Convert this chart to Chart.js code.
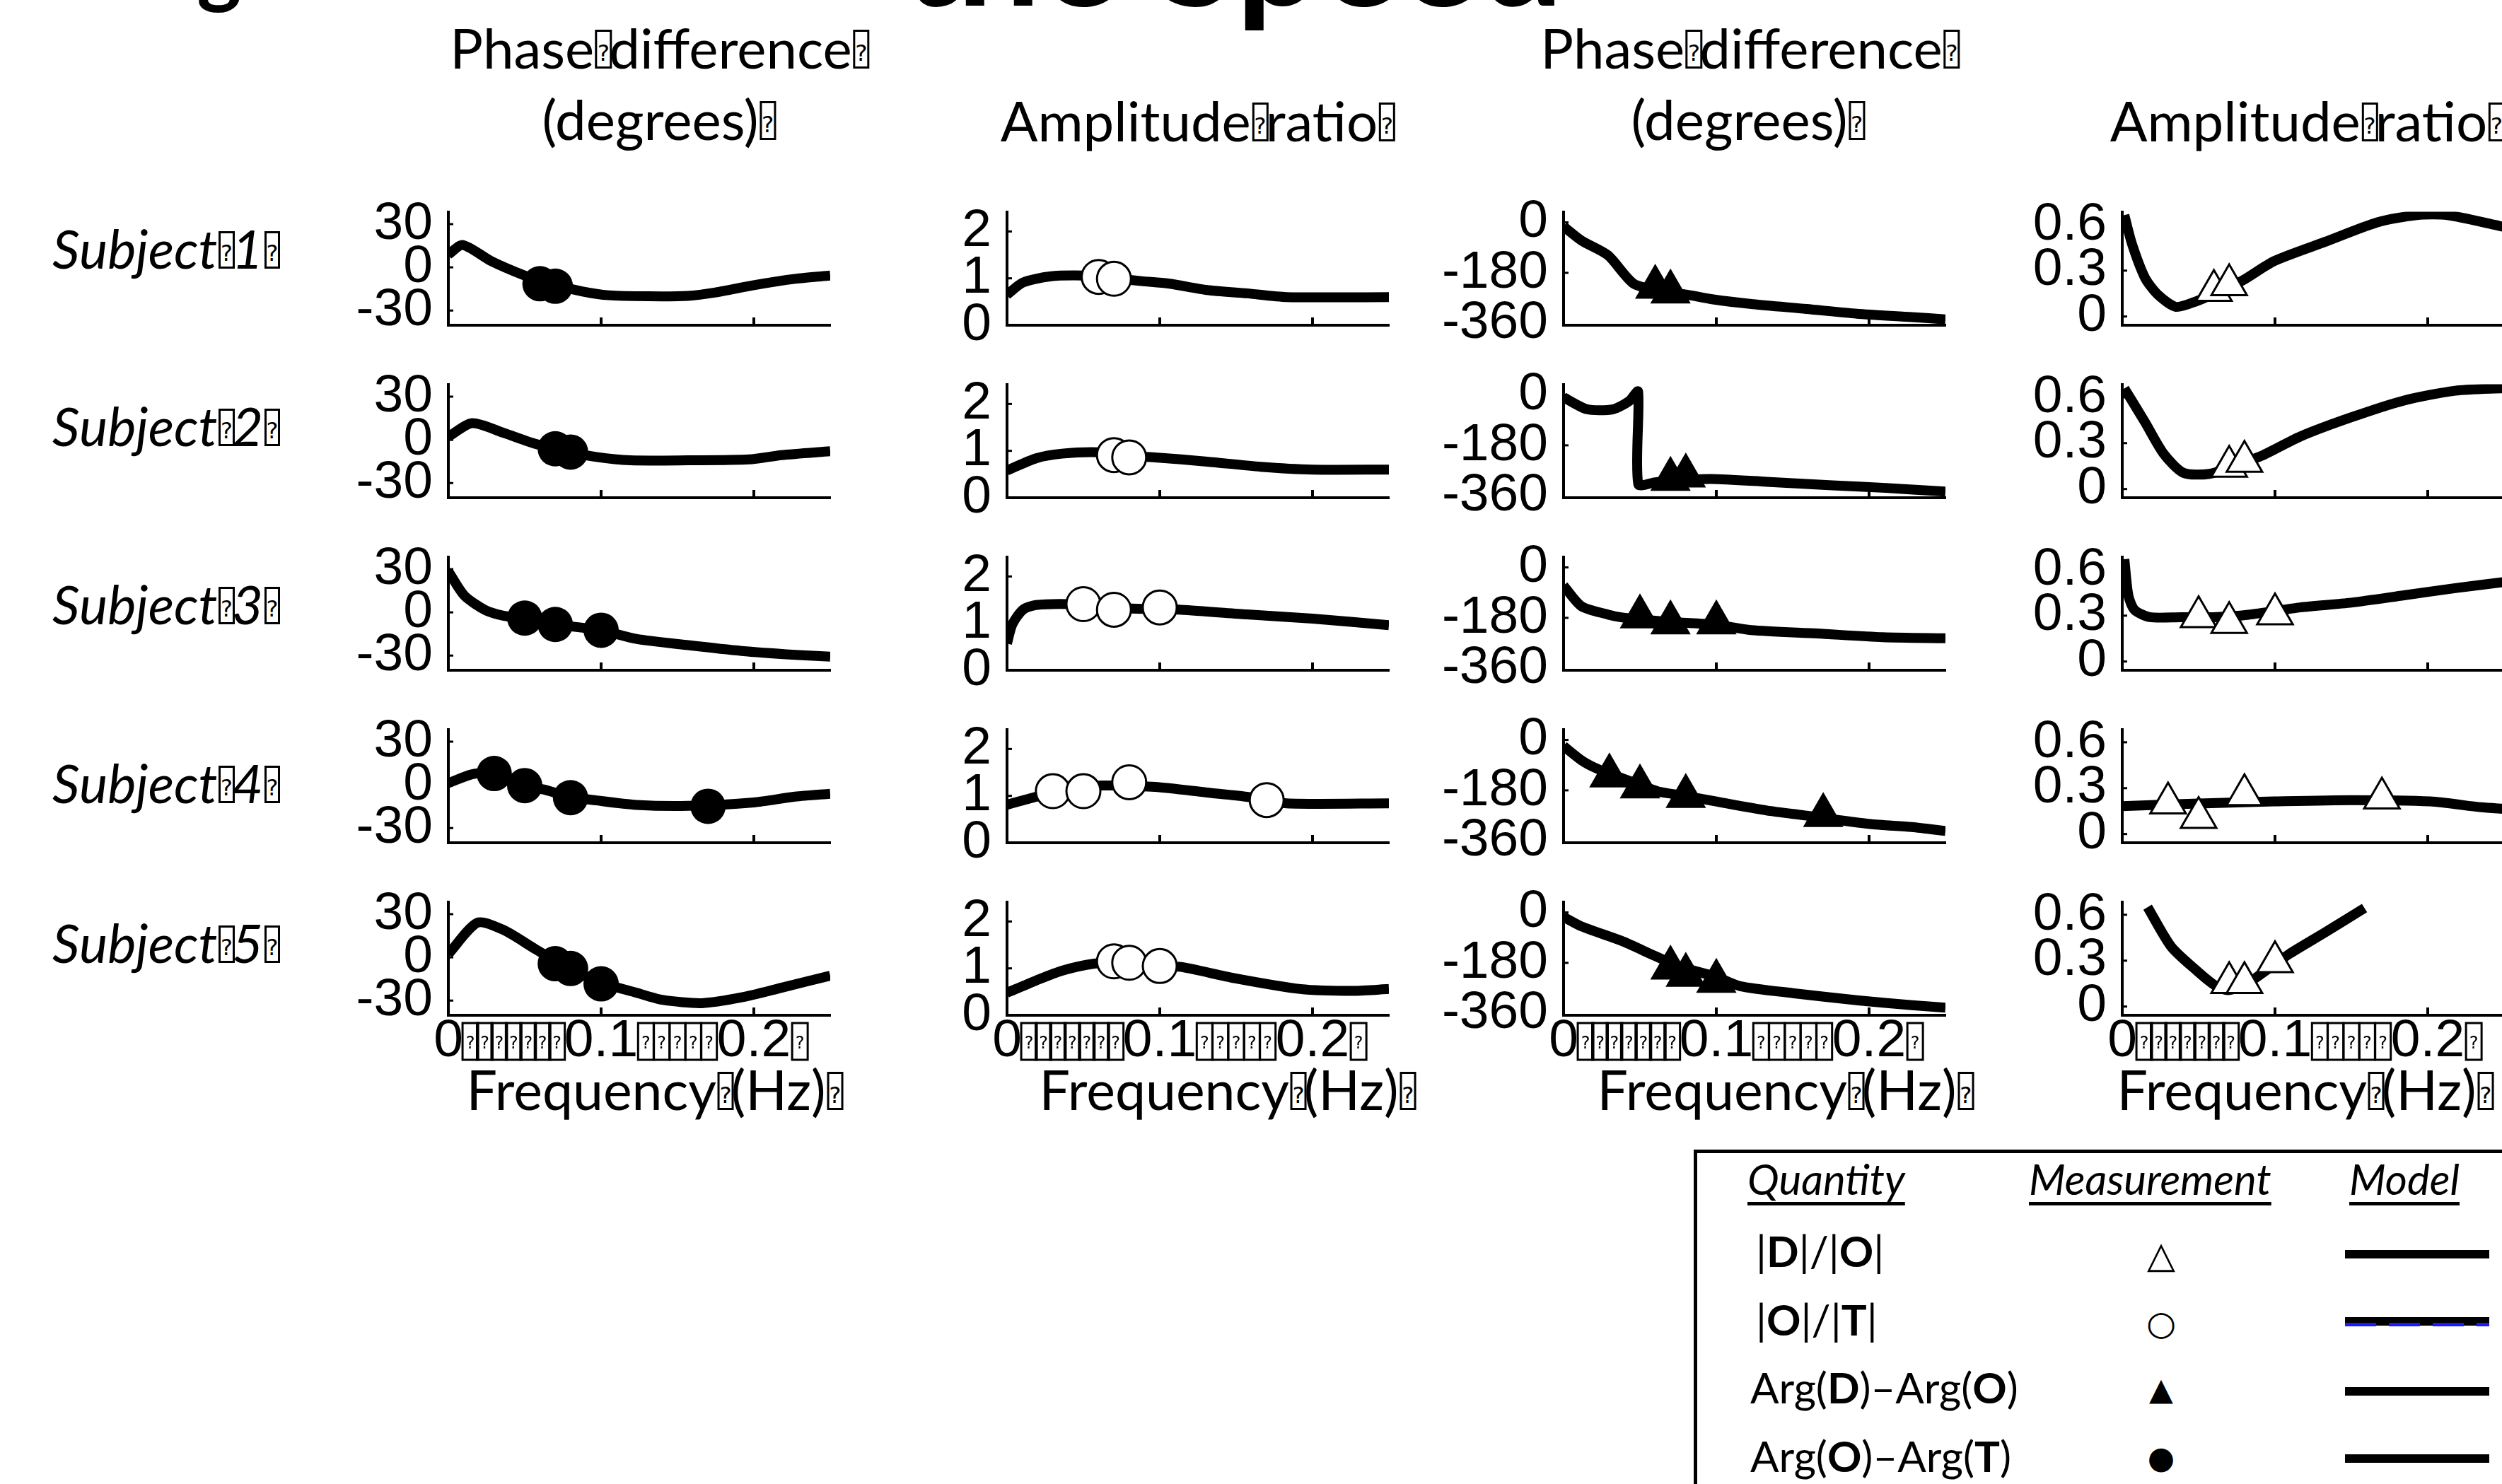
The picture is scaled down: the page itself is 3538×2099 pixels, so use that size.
<!DOCTYPE html>
<html>
<head>
<meta charset="utf-8">
<title>Phase difference and amplitude ratio per subject</title>
<script src="https://cdn.jsdelivr.net/npm/chart.js@4.4.1/dist/chart.umd.min.js"></script>
<style>
  html, body { margin: 0; padding: 0; background: #fff; }
  body { width: 3538px; height: 2099px; position: relative; overflow: hidden; font-family: Lato, 'Open Sans', sans-serif; color: #000; }
  .t { position: absolute; white-space: nowrap; line-height: 1; }
  .c { transform: translateX(-50%); }
  .q { display: inline-block; width: 0.3em; height: 0.7em; border: 3px solid #000; box-sizing: border-box; position: relative; margin: 0 -0.05em 0 0.02em; }
  .q::after { content: '?'; position: absolute; left: 0; right: 0; bottom: 0.06em; font-size: 0.42em; text-align: center; line-height: 1; font-style: normal; font-family: 'DejaVu Sans', sans-serif; }
  canvas { position: absolute; }
  #legend { position: absolute; left: 2395px; top: 1626px; width: 1300px; height: 600px; border: 5px solid #000; box-sizing: border-box; }
  .lh { font-style: italic; text-decoration: underline; text-decoration-thickness: 5px; text-underline-offset: 10px; }
  .sym { position: absolute; width: 80px; height: 60px; display: flex; align-items: center; justify-content: center; line-height: 1; font-family: 'DejaVu Sans', sans-serif; }
  .mline { position: absolute; left: 3316px; width: 204px; height: 12px; background: #000; }
</style>
</head>
<body>

<div class="t" style="left:180px;top:-110px;font-size:120px;font-weight:700">Fig</div>
<div class="t" style="left:1275px;top:-178px;font-size:210px;font-weight:700">the Speed</div>

<div class="t c" style="left:931px;top:28px;font-size:78px">Phase<span class="q"></span>difference<span class="q"></span></div>
<div class="t c" style="left:930px;top:129px;font-size:78px">(degrees)<span class="q"></span></div>
<div class="t c" style="left:1692px;top:131px;font-size:78px">Amplitude<span class="q"></span>ratio<span class="q"></span></div>
<div class="t c" style="left:2473px;top:28px;font-size:78px">Phase<span class="q"></span>difference<span class="q"></span></div>
<div class="t c" style="left:2470px;top:129px;font-size:78px">(degrees)<span class="q"></span></div>
<div class="t c" style="left:3261px;top:131px;font-size:78px">Amplitude<span class="q"></span>ratio<span class="q"></span></div>

<div id="rowLabels"></div>
<div id="freqLabels"></div>

<div id="legend"></div>
<div class="t lh" style="left:2471px;top:1637px;font-size:60px">Quantity</div>
<div class="t lh" style="left:2869px;top:1637px;font-size:60px">Measurement</div>
<div class="t lh" style="left:3322px;top:1637px;font-size:60px">Model</div>
<div class="t" style="left:2483px;top:1739px;font-size:60px">|<b>D</b>|/|<b>O</b>|</div>
<div class="t" style="left:2483px;top:1836px;font-size:60px">|<b>O</b>|/|<b>T</b>|</div>
<div class="t" style="left:2475px;top:1932px;font-size:60px">Arg(<b>D</b>)–Arg(<b>O</b>)</div>
<div class="t" style="left:2475px;top:2029px;font-size:60px">Arg(<b>O</b>)–Arg(<b>T</b>)</div>
<div class="sym" style="left:3016px;top:1745px;font-size:52px">△</div>
<div class="sym" style="left:3016px;top:1841px;font-size:48px">○</div>
<div class="sym" style="left:3016px;top:1935px;font-size:44px">▲</div>
<div class="sym" style="left:3016px;top:2032px;font-size:44px">●</div>
<div class="mline" style="top:1768px"></div>
<div class="mline" style="top:1863px"></div>
<div style="position:absolute;left:3316px;top:1871px;width:204px;height:5px;background:repeating-linear-gradient(90deg,#1a1aff 0 44px,transparent 44px 62px)"></div>
<div class="mline" style="top:1962px"></div>
<div class="mline" style="top:2057px"></div>

<script>
// axis ticks
const xTicks = [0, 0.1, 0.2];
const xTickLabels = ['0', '0.1', '0.2'];
const argOTTicks = [-30, 0, 30];
const argOTTickLabels = ['-30', '0', '30'];
const ampOTTicks = [0, 1, 2];
const ampOTTickLabels = ['0', '1', '2'];
const argDOTicks = [-360, -180, 0];
const argDOTickLabels = ['-360', '-180', '0'];
const ampDOTicks = [0, 0.3, 0.6];
const ampDOTickLabels = ['0', '0.3', '0.6'];

const subjectNames = ['1', '2', '3', '4', '5'];

// measurement frequencies (Hz)
const freqS1 = [0.06, 0.07];
const freqS2 = [0.07, 0.08];
const freqS3 = [0.05, 0.07, 0.10];
const freqS4 = [0.03, 0.05, 0.08, 0.17];
const freqS5 = [0.07, 0.08, 0.10];

// Arg(O)-Arg(T), degrees
const argOT_S1 = [-11.4, -13.1];
const argOT_S2 = [-6.2, -8.5];
const argOT_S3 = [-4.0, -8.4, -12.4];
const argOT_S4 = [7.9, -0.5, -8.9, -14.9];
const argOT_S5 = [-4.4, -7.7, -18.4];
const argOT_S1_model = [[0, 9], [0.0095, 15.5], [0.028, 4.4], [0.05, -5.7], [0.065, -11], [0.088, -16.8], [0.105, -19.4], [0.131, -20.1], [0.157, -19.8], [0.175, -17.4], [0.2, -12.4], [0.227, -8], [0.25, -5.7]];
const argOT_S2_model = [[0, 2.2], [0.0156, 11.6], [0.036, 4.9], [0.057, -2.8], [0.075, -7.5], [0.097, -11.9], [0.119, -14.2], [0.157, -14.2], [0.197, -13.6], [0.218, -10.6], [0.25, -7.9]];
const argOT_S3_model = [[0, 28.5], [0.0104, 11.7], [0.024, 1.7], [0.036, -2.3], [0.051, -4.5], [0.07, -8.4], [0.1, -12.4], [0.123, -18.4], [0.157, -22.8], [0.192, -26.8], [0.227, -29.5], [0.25, -30.8]];
const argOT_S4_model = [[0, 1.2], [0.0156, 7.4], [0.03, 7.9], [0.05, -0.3], [0.0623, -3.2], [0.08, -8.2], [0.097, -10.8], [0.123, -13.9], [0.157, -14.6], [0.2, -12.2], [0.227, -8.2], [0.25, -6.2]];
const argOT_S5_model = [[0, 2.3], [0.019, 24.1], [0.036, 19.1], [0.057, 5.7], [0.075, -5.5], [0.1, -17.5], [0.123, -24.5], [0.14, -29.5], [0.166, -31.8], [0.192, -27.8], [0.218, -21.1], [0.25, -12.7]];

// |O|/|T|
const ampOT_S1 = [1.03, 0.99];
const ampOT_S2 = [0.91, 0.86];
const ampOT_S3 = [1.41, 1.29, 1.34];
const ampOT_S4 = [1.10, 1.10, 1.29, 0.91];
const ampOT_S5 = [1.15, 1.12, 1.05];
const ampOT_S1_model = [[0, 0.65], [0.0104, 0.91], [0.028, 1.04], [0.05, 1.06], [0.065, 1.02], [0.088, 0.94], [0.1055, 0.89], [0.131, 0.75], [0.157, 0.68], [0.183, 0.6], [0.25, 0.6]];
const ampOT_S2_model = [[0, 0.58], [0.019, 0.84], [0.036, 0.94], [0.06, 0.97], [0.075, 0.9], [0.097, 0.86], [0.131, 0.77], [0.166, 0.66], [0.2, 0.6], [0.25, 0.6]];
const ampOT_S3_model = [[0, 0.57], [0.0035, 0.98], [0.0104, 1.29], [0.019, 1.39], [0.0415, 1.41], [0.06, 1.35], [0.085, 1.31], [0.114, 1.29], [0.157, 1.19], [0.2, 1.1], [0.25, 0.96]];
const ampOT_S4_model = [[0, 0.81], [0.019, 0.98], [0.04, 1.15], [0.062, 1.22], [0.097, 1.19], [0.131, 1.07], [0.157, 0.98], [0.183, 0.84], [0.25, 0.84]];
const ampOT_S5_model = [[0, 0.48], [0.019, 0.74], [0.036, 0.95], [0.057, 1.1], [0.075, 1.13], [0.1, 1.05], [0.114, 1.03], [0.149, 0.79], [0.192, 0.56], [0.227, 0.52], [0.25, 0.56]];

// Arg(D)-Arg(O), degrees
const argDO_S1 = [-231, -248];
const argDO_S2 = [-301, -289];
const argDO_S3 = [-176, -197, -197];
const argDO_S4 = [-128, -167, -201, -269];
const argDO_S5 = [-198, -224, -245];
const argDO_S1_model = [[0, -14.5], [0.0118, -65], [0.029, -117], [0.046, -219], [0.065, -245], [0.081, -258], [0.098, -275], [0.124, -292], [0.159, -309], [0.192, -326], [0.228, -338], [0.25, -346]];
const argDO_S2_model = [[0, -8.5], [0.0152, -51], [0.0325, -51], [0.043, -22], [0.0488, 12], [0.0489, -318], [0.06, -312], [0.075, -305], [0.0965, -300], [0.133, -310], [0.176, -323], [0.211, -332], [0.25, -345]];
const argDO_S3_model = [[0, -65], [0.0118, -139], [0.029, -168], [0.0377, -178], [0.05, -185], [0.07, -195], [0.081, -198], [0.1, -205], [0.1228, -224], [0.166, -236], [0.209, -249], [0.25, -253]];
const argDO_S4_model = [[0, -22], [0.0118, -73], [0.0204, -99], [0.03, -120], [0.05, -160], [0.062, -184], [0.08, -200], [0.098, -218], [0.133, -252], [0.157, -269], [0.2007, -300], [0.228, -311], [0.25, -325]];
const argDO_S5_model = [[0, -16], [0.0118, -50], [0.0377, -101], [0.0585, -152], [0.07, -180], [0.08, -200], [0.1, -230], [0.1156, -263], [0.15, -288], [0.193, -314], [0.228, -331], [0.25, -340]];

// |D|/|O|
const ampDO_S1 = [0.169, 0.207];
const ampDO_S2 = [0.148, 0.18];
const ampDO_S3 = [0.292, 0.254, 0.311];
const ampDO_S4 = [0.202, 0.107, 0.256, 0.234];
const ampDO_S5 = [0.156, 0.156, 0.292];
const ampDO_S1_model = [[0.0014, 0.663], [0.0064, 0.474], [0.0149, 0.253], [0.0234, 0.142], [0.0352, 0.063], [0.0488, 0.101], [0.065, 0.17], [0.079, 0.237], [0.0996, 0.363], [0.133, 0.489], [0.167, 0.616], [0.1927, 0.663], [0.213, 0.663], [0.2435, 0.6], [0.25, 0.585]];
const ampDO_S2_model = [[0.0014, 0.658], [0.0149, 0.437], [0.027, 0.232], [0.04, 0.106], [0.057, 0.099], [0.075, 0.16], [0.091, 0.216], [0.1165, 0.343], [0.15, 0.469], [0.1845, 0.579], [0.218, 0.643], [0.25, 0.66]];
const ampDO_S3_model = [[0.0014, 0.669], [0.004, 0.433], [0.008, 0.338], [0.018, 0.29], [0.0385, 0.29], [0.06, 0.29], [0.0826, 0.306], [0.1165, 0.354], [0.15, 0.385], [0.1845, 0.433], [0.218, 0.48], [0.25, 0.52]];
const ampDO_S4_model = [[0, 0.182], [0.05, 0.2], [0.0995, 0.213], [0.15, 0.222], [0.2015, 0.213], [0.235, 0.175], [0.25, 0.165]];
const ampDO_S5_model = [[0.0166, 0.65], [0.032, 0.392], [0.0488, 0.234], [0.0606, 0.139], [0.0691, 0.107], [0.08, 0.14], [0.0894, 0.202], [0.1094, 0.344], [0.133, 0.486], [0.1586, 0.644]];

// layout (page pixels)
const axisLeft = [634, 1424, 2211, 3001];
const plotTop = [280, 524, 768, 1012, 1256];
const plotW = 540, plotH = 180, yAxisW = 170, xAxisH = 110, padTop = 40, padRight = 40;
const subjectBaseline = [380, 631, 883, 1136, 1362];
const freqCenter = [924, 1734, 2523, 3258];

const freqs = [freqS1, freqS2, freqS3, freqS4, freqS5];
const columns = [
  { meas: [argOT_S1, argOT_S2, argOT_S3, argOT_S4, argOT_S5], model: [argOT_S1_model, argOT_S2_model, argOT_S3_model, argOT_S4_model, argOT_S5_model],
    min: -40.2, max: 38.6, ticks: argOTTicks, labels: argOTTickLabels, style: 'circle', radius: 25, open: false },
  { meas: [ampOT_S1, ampOT_S2, ampOT_S3, ampOT_S4, ampOT_S5], model: [ampOT_S1_model, ampOT_S2_model, ampOT_S3_model, ampOT_S4_model, ampOT_S5_model],
    min: 0, max: 2.42, ticks: ampOTTicks, labels: ampOTTickLabels, style: 'circle', radius: 24, open: true },
  { meas: [argDO_S1, argDO_S2, argDO_S3, argDO_S4, argDO_S5], model: [argDO_S1_model, argDO_S2_model, argDO_S3_model, argDO_S4_model, argDO_S5_model],
    min: -367, max: 38, ticks: argDOTicks, labels: argDOTickLabels, style: 'triangle', radius: 33, open: false },
  { meas: [ampDO_S1, ampDO_S2, ampDO_S3, ampDO_S4, ampDO_S5], model: [ampDO_S1_model, ampDO_S2_model, ampDO_S3_model, ampDO_S4_model, ampDO_S5_model],
    min: -0.057, max: 0.685, ticks: ampDOTicks, labels: ampDOTickLabels, style: 'triangle', radius: 29, open: true }
];

const tickFont = { family: "'Liberation Sans', Arial, sans-serif", size: 75, lineHeight: 1 };

// short tick marks pointing into the plot
const inwardTicks = {
  id: 'inwardTicks',
  afterDraw(chart) {
    const { ctx, chartArea: a, scales: { x, y } } = chart;
    ctx.save();
    ctx.strokeStyle = '#000';
    ctx.lineWidth = 4;
    x.ticks.forEach(t => {
      const px = x.getPixelForValue(t.value);
      if (px - a.left < 4) return;
      ctx.beginPath(); ctx.moveTo(px, a.bottom); ctx.lineTo(px, a.bottom - 11); ctx.stroke();
    });
    ctx.lineWidth = 3;
    y.ticks.forEach(t => {
      const py = y.getPixelForValue(t.value);
      if (a.bottom - py < 4) return;
      ctx.beginPath(); ctx.moveTo(a.left, py); ctx.lineTo(a.left + 7, py); ctx.stroke();
    });
    ctx.restore();
  }
};

// the missing-glyph boxes that sit between the x tick labels in the original
const tofuFill = {
  id: 'tofuFill',
  afterDraw(chart, args, opts) {
    if (!opts.show) return;
    const { ctx, scales: { x } } = chart;
    ctx.save();
    ctx.font = tickFont.size + 'px ' + tickFont.family;
    const items = x.ticks.map(t => ({ px: x.getPixelForValue(t.value), w: ctx.measureText(t.label).width }));
    const cy = x.top + 37, bw = 22, bh = 52;
    ctx.lineWidth = 3;
    ctx.strokeStyle = '#000';
    ctx.fillStyle = '#000';
    ctx.font = "24px 'DejaVu Sans', sans-serif";
    ctx.textAlign = 'center';
    ctx.textBaseline = 'middle';
    const box = cx => { ctx.strokeRect(cx - bw / 2, cy - bh / 2, bw, bh); ctx.fillText('?', cx, cy + 4); };
    for (let i = 0; i < items.length - 1; i++) {
      const s = items[i].px + items[i].w / 2, e = items[i + 1].px - items[i + 1].w / 2;
      const n = Math.max(1, Math.round((e - s) / bw));
      const step = (e - s) / n;
      for (let k = 0; k < n; k++) box(s + step * (k + 0.5));
    }
    const last = items[items.length - 1];
    box(last.px + last.w / 2 + bw / 2 + 2);
    ctx.restore();
  }
};

function toPoints(xs, ys) {
  return xs.map((v, i) => ({ x: v, y: ys[i] }));
}

function makePanel(ci, ri) {
  const col = columns[ci];
  const canvas = document.createElement('canvas');
  canvas.width = yAxisW + plotW + padRight;
  canvas.height = padTop + plotH + xAxisH;
  canvas.style.left = (axisLeft[ci] - yAxisW) + 'px';
  canvas.style.top = (plotTop[ri] - padTop) + 'px';
  document.body.appendChild(canvas);

  new Chart(canvas.getContext('2d'), {
    type: 'scatter',
    data: {
      datasets: [
        {
          data: toPoints(freqs[ri], col.meas[ri]),
          pointStyle: col.style,
          pointRadius: col.radius,
          pointHoverRadius: col.radius,
          backgroundColor: col.open ? '#fff' : '#000',
          borderColor: '#000',
          borderWidth: col.open ? 3 : 0,
          order: 0
        },
        {
          data: col.model[ri].map(p => ({ x: p[0], y: p[1] })),
          showLine: true,
          borderColor: '#000',
          borderWidth: 14,
          pointRadius: 0,
          tension: 0.25,
          borderJoinStyle: 'round',
          order: 1
        }
      ]
    },
    options: {
      responsive: false,
      animation: false,
      devicePixelRatio: 1,
      layout: { padding: { top: padTop, right: padRight, left: 0, bottom: 0 } },
      plugins: { legend: { display: false }, tooltip: { enabled: false }, tofuFill: { show: ri === 4 } },
      scales: {
        x: {
          type: 'linear', min: 0, max: 0.25,
          afterBuildTicks: s => { s.ticks = xTicks.map(v => ({ value: v })); },
          afterFit: s => { s.height = xAxisH; },
          grid: { display: false, drawTicks: false },
          border: { display: true, width: 4, color: '#000' },
          ticks: {
            display: ri === 4, color: '#000', font: tickFont, padding: 0,
            maxRotation: 0, autoSkip: false,
            callback: v => xTickLabels[xTicks.indexOf(v)]
          }
        },
        y: {
          type: 'linear', min: col.min, max: col.max,
          afterBuildTicks: s => { s.ticks = col.ticks.map(v => ({ value: v })); },
          afterFit: s => { s.width = yAxisW; },
          grid: { display: false, drawTicks: false },
          border: { display: true, width: 4, color: '#000' },
          ticks: {
            color: '#000', font: tickFont, padding: 22, autoSkip: false,
            callback: v => col.labels[col.ticks.indexOf(v)]
          }
        }
      }
    },
    plugins: [inwardTicks, tofuFill]
  });
}

// row labels
const rowLabels = document.getElementById('rowLabels');
subjectNames.forEach((n, i) => {
  const d = document.createElement('div');
  d.className = 't';
  d.style.cssText = 'left:74px;font-size:76px;font-style:italic;top:' + (subjectBaseline[i] - 67) + 'px';
  d.innerHTML = 'Subject<span class="q"></span>' + n + '<span class="q"></span>';
  rowLabels.appendChild(d);
});

// x axis titles
const freqLabels = document.getElementById('freqLabels');
freqCenter.forEach(cx => {
  const d = document.createElement('div');
  d.className = 't c';
  d.style.cssText = 'font-size:77px;top:1502px;left:' + cx + 'px';
  d.innerHTML = 'Frequency<span class="q"></span>(Hz)<span class="q"></span>';
  freqLabels.appendChild(d);
});

for (let r = 0; r < 5; r++) {
  for (let c = 0; c < 4; c++) makePanel(c, r);
}
</script>
</body>
</html>
